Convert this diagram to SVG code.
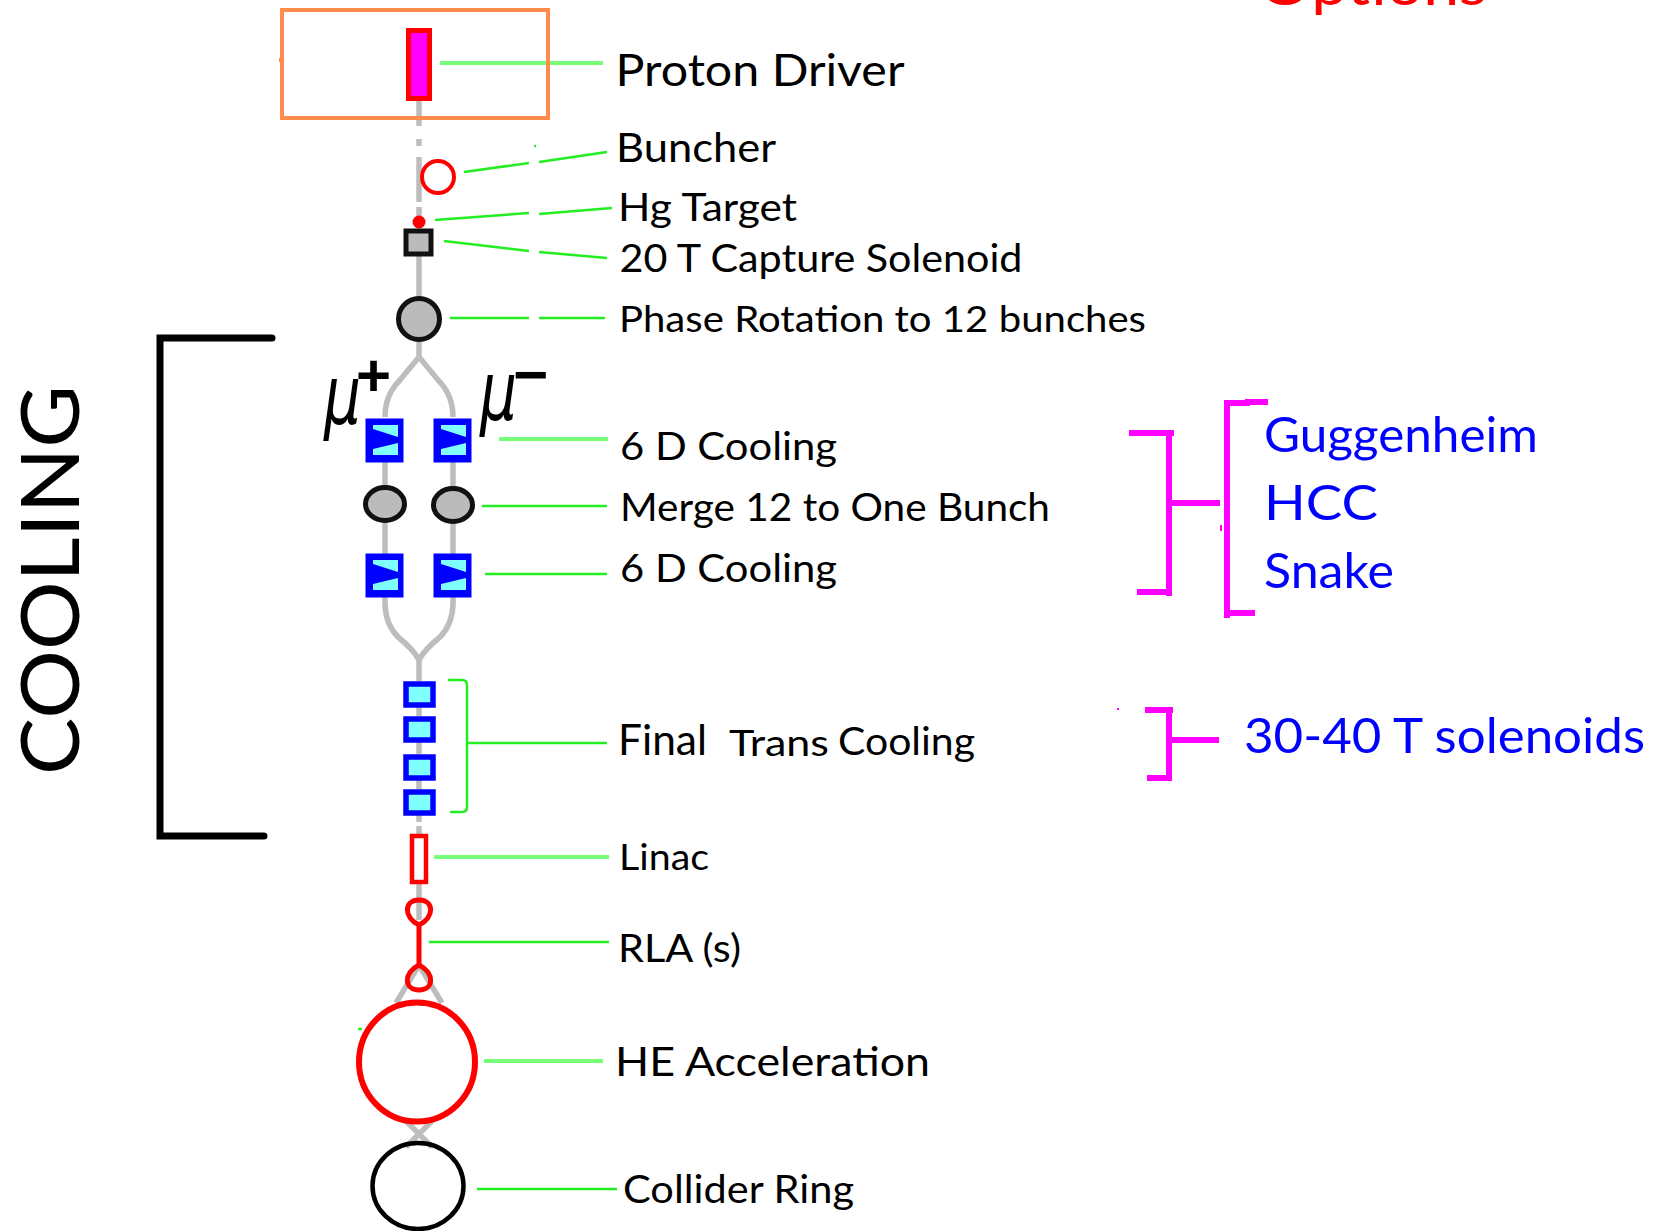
<svg xmlns="http://www.w3.org/2000/svg" width="1666" height="1231" viewBox="0 0 1666 1231">
<style>
text{font-family:"Lato","Open Sans","Liberation Sans",sans-serif;fill:#000}
.blue{fill:#0000ff}
.beam{fill:none;stroke:#bdbdbd;stroke-width:5.5}
.lead{fill:none;stroke:#22ee22;stroke-width:2.5}
.leadw{fill:none;stroke:#77ff77;stroke-width:4}
.mag{fill:none;stroke:#ff00ff;stroke-width:6}
.blk{fill:none;stroke:#000;stroke-width:7;stroke-linecap:round}
.gray{fill:#bbb;stroke:#111;stroke-width:5}
.red{fill:none;stroke:#ff0000;stroke-width:5}
.bsq{fill:#0000ff;stroke:#0000ff;stroke-width:1}
.cy{fill:#80ffff}
.fq{fill:#80ffff;stroke:#0000ff;stroke-width:5.5}
.mu{font-family:"DejaVu Sans",sans-serif;font-style:italic;font-size:58px}
.sup{font-family:"Liberation Sans",sans-serif;font-weight:bold;font-size:60px}
</style>
<defs>
<g id="cool"><rect class="bsq" x="0" y="0" width="37" height="43"/><polygon class="cy" points="7,6 32,6 32,18 7,10"/><polygon class="cy" points="7,36 32,36 32,24 7,30"/></g>
</defs>
<g id="connectors">
<path class="beam" d="M419 101V126M419 139V146M419 157V202M419 207V216M419 256V300M419 338V357L400 380Q385 395 385 417M419 357L438 380Q453 395 453 417M385 462V605Q386 625 398 637Q414 650 419 660V681M453 462V605Q452 625 440 637Q424 650 419 660M419 707V716M419 742V754M419 780V789M419 815V822M419 826V834M419 884V920M419 965L396 1003M419 965L442 1003M406 1121L432 1147M432 1121L406 1147"/>
<path class="leadw" d="M440 63H603M434 857H609M484 1061H603M499 439H608"/>
<path class="lead" d="M464 172L529 163M539 162L607 152M435 220L529 213M539 214L612 208M444 241L529 251M539 252L607 258M450 318H529M539 318H605M482 506H607M485 574H607M448 680H462Q467 680 467 685V807Q467 812 462 812H450M467 743H607M429 942H609M477 1189H617M534 146H536M358 1029H362"/>
<path class="mag" d="M1129 433H1174M1169 430V596M1137 592H1172M1172 503H1220M1268 402H1245M1227 618V403H1250M1227 613H1255M1145 710H1173M1169 707V781M1147 778H1172M1172 740H1219"/>
<path class="mag" style="stroke-width:2" d="M1221 525V531M1117 709H1119"/>
<path class="blk" d="M272 338H160V836H264"/>
</g>
<g id="options"><text x="1259" y="5" font-size="58" style="fill:#ff0000" textLength="228" lengthAdjust="spacingAndGlyphs"><tspan font-weight="900">O</tspan>ptions</text></g>
<g id="cooling-label"><text transform="translate(79 775) rotate(-90)" font-size="82" textLength="390" lengthAdjust="spacingAndGlyphs">COOLING</text></g>
<g id="proton-driver">
<rect x="282" y="10" width="266" height="108" fill="none" stroke="#ff8c4d" stroke-width="4"/>
<path d="M280 58V62" stroke="#ff8c4d" stroke-width="2"/>
<rect x="408.500" y="30.500" width="21" height="68" fill="#ff00ff" stroke="#ff0000" stroke-width="5"/>
<text x="615.500" y="86" font-size="44" textLength="289" lengthAdjust="spacingAndGlyphs">Proton Driver</text>
</g>
<g id="buncher"><circle class="red" cx="438" cy="177" r="16" style="stroke-width:4"/><text x="616" y="162" font-size="41" textLength="160" lengthAdjust="spacingAndGlyphs">Buncher</text></g>
<g id="hg-target"><circle cx="419" cy="222" r="6.500" fill="#ff0000"/><text x="618" y="221" font-size="38" textLength="179" lengthAdjust="spacingAndGlyphs">Hg Target</text></g>
<g id="capture-solenoid"><rect class="gray" x="406" y="231" width="25" height="23"/><text x="619.500" y="272" font-size="39" textLength="403" lengthAdjust="spacingAndGlyphs">20 T Capture Solenoid</text></g>
<g id="phase-rotation"><circle class="gray" cx="419" cy="319" r="20.500"/><text x="619" y="332" font-size="37" textLength="527" lengthAdjust="spacingAndGlyphs">Phase Rotation to 12 bunches</text></g>
<g id="mu-labels">
<text class="mu" transform="translate(324 424) scale(1 1.4)">μ</text><text class="sup" x="356" y="396">+</text>
<text class="mu" transform="translate(480 420) scale(1 1.4)">μ</text><text class="sup" x="513" y="395">−</text>
</g>
<g id="cooling-6d-a"><use href="#cool" x="366" y="419"/><use href="#cool" x="434" y="419"/><text x="620" y="460" font-size="38" textLength="217" lengthAdjust="spacingAndGlyphs">6 D Cooling</text></g>
<g id="merge"><ellipse class="gray" cx="385" cy="504" rx="19.500" ry="16.500"/><ellipse class="gray" cx="453" cy="505" rx="19.500" ry="16.500"/><text x="620" y="521" font-size="38" textLength="430" lengthAdjust="spacingAndGlyphs">Merge 12 to One Bunch</text></g>
<g id="cooling-6d-b"><use href="#cool" x="366" y="554"/><use href="#cool" x="434" y="554"/><text x="620" y="582" font-size="38" textLength="217" lengthAdjust="spacingAndGlyphs">6 D Cooling</text></g>
<g id="final-cooling">
<rect class="fq" x="406" y="684" width="27" height="21"/><rect class="fq" x="406" y="719" width="27" height="21"/><rect class="fq" x="406" y="757" width="27" height="21"/><rect class="fq" x="406" y="792" width="27" height="21"/>
<text x="618" y="755" font-size="43" textLength="89" lengthAdjust="spacingAndGlyphs">Final</text>
<text x="729" y="756" font-size="36" textLength="100" lengthAdjust="spacingAndGlyphs">Trans</text>
<text x="838" y="755" font-size="38" textLength="137" lengthAdjust="spacingAndGlyphs">Cooling</text>
</g>
<g id="linac"><rect x="412" y="836" width="14" height="46" fill="#fff" stroke="#ff0000" stroke-width="4.500"/><text x="619" y="870" font-size="37" textLength="90" lengthAdjust="spacingAndGlyphs">Linac</text></g>
<g id="rla"><path class="red" d="M419 925V965M419 925C403 917 404 900 419 900C434 900 435 917 419 925ZM419 965C403 973 404 990 419 990C434 990 435 973 419 965Z"/><text x="618" y="962" font-size="38" textLength="123" lengthAdjust="spacingAndGlyphs">RLA (s)</text></g>
<g id="he-acceleration"><ellipse cx="417" cy="1062" rx="58" ry="59.500" fill="none" stroke="#ff0000" stroke-width="6"/><text x="615" y="1076" font-size="41" textLength="315" lengthAdjust="spacingAndGlyphs">HE Acceleration</text></g>
<g id="collider-ring"><ellipse cx="418" cy="1186" rx="45.500" ry="43" fill="none" stroke="#000" stroke-width="4.500"/><text x="623" y="1203" font-size="38" textLength="231" lengthAdjust="spacingAndGlyphs">Collider Ring</text></g>
<g id="options-list">
<text class="blue" x="1264" y="452" font-size="48" textLength="274" lengthAdjust="spacingAndGlyphs">Guggenheim</text>
<text class="blue" x="1264" y="520" font-size="48" textLength="114" lengthAdjust="spacingAndGlyphs">HCC</text>
<text class="blue" x="1264" y="588" font-size="48" textLength="130" lengthAdjust="spacingAndGlyphs">Snake</text>
<text class="blue" x="1244" y="753" font-size="48" textLength="401" lengthAdjust="spacingAndGlyphs">30-40 T solenoids</text>
</g>
</svg>
